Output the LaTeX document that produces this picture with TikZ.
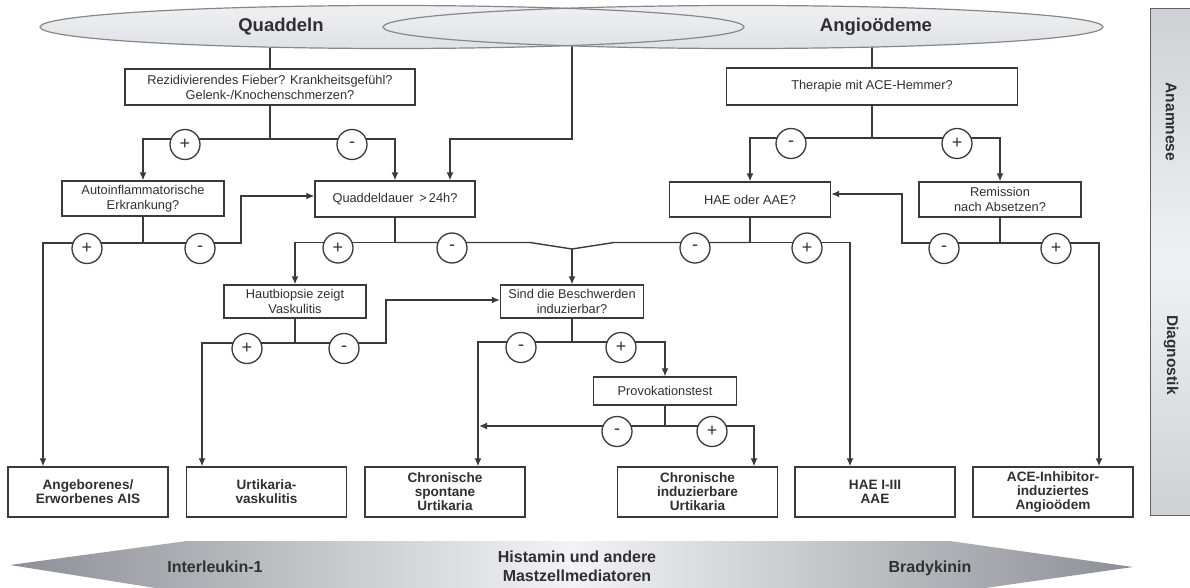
\documentclass[tikz,border=0pt]{standalone}
\usepackage{fontspec}
\setmainfont{Liberation Sans}
\usetikzlibrary{arrows.meta,shapes.geometric,calc}
\definecolor{ln}{HTML}{3A3A3A}
\definecolor{tx}{HTML}{303030}
\definecolor{elltop}{HTML}{F0F0F2}
\definecolor{ellbot}{HTML}{E0E1E4}
\definecolor{ellline}{HTML}{86878B}
\definecolor{bardark}{HTML}{ADB0B7}
\definecolor{barlight}{HTML}{F0F1F3}
\definecolor{bandend}{HTML}{8C8F95}
\definecolor{bandmid}{HTML}{F3F3F5}
\pgfdeclareverticalshading{barshade}{100bp}{color(0bp)=(bardark); color(50bp)=(barlight); color(100bp)=(bardark)}
\pgfdeclarelayer{back}
\pgfsetlayers{back,main}
\begin{document}
\begin{tikzpicture}[x=1pt,y=-1pt,
  box/.style={draw=ln, line width=1.3pt, fill=white, text=tx, align=center, inner sep=0pt, font=\fontsize{12.8}{15}\selectfont},
  fin/.style={draw=ln, line width=1.3pt, fill=white, text=tx, align=center, inner sep=0pt, minimum width=160pt, minimum height=50pt, font=\bfseries\fontsize{13.6}{14}\selectfont},
  sgn/.style={circle, draw=ln, line width=1.3pt, fill=white, minimum size=30pt, inner sep=0pt, text=tx, font=\fontsize{18}{18}\selectfont},
  con/.style={draw=ln, line width=1.4pt},
  arr/.style={con, -{Latex[length=8pt,width=7pt]}},
  ell/.style={ellipse, inner sep=0pt, minimum height=43pt},
  hdr/.style={text=tx, font=\bfseries\fontsize{18.5}{20}\selectfont},
  side/.style={text=tx, font=\bfseries\fontsize{15.5}{17}\selectfont},
]
\useasboundingbox (0,0) rectangle (1190,588);
\clip (0,0) rectangle (1190,588);

% ---------- right side bar ----------
\node[inner sep=0pt, minimum width=46pt, minimum height=506pt, shading=barshade] (bar) at (1174,262) {};
\draw[ln!80, line width=1.2pt] (bar.north east) -- (bar.north west) -- (bar.south west) -- (bar.south east);
\node[side, rotate=-90] (anam) at (1171,122) {Anamnese};
\node[side, rotate=-90] (diag) at (1171,355) {Diagnostik};

% ---------- bottom band ----------
\shade[left color=bandend, right color=bandend, middle color=bandmid]
  (10,565) -- (187,541) -- (950,541) -- (1133,567) -- (950,593) -- (187,593) -- cycle;
\node[side, font=\bfseries\fontsize{16}{19}\selectfont] (il) at (215,567) {Interleukin-1};
\node[side, align=center, font=\bfseries\fontsize{16}{19}\selectfont] (hist) at (577,566) {Histamin und andere\\Mastzellmediatoren};
\node[side, font=\bfseries\fontsize{16}{19}\selectfont] (brady) at (930,568) {Bradykinin};

% ---------- ellipses ----------
\node[ell, minimum width=704pt, top color=elltop, bottom color=ellbot] (qell) at (392,27) {};
\node[ell, minimum width=720pt, top color=elltop, bottom color=ellbot] (aell) at (743,27) {};
\node[ell, minimum width=704pt, draw=ellline, line width=1.2pt] (qellb) at (392,27) {};
\node[ell, minimum width=720pt, draw=ellline, line width=1.2pt] (aellb) at (743,27) {};
\node[hdr] (tq) at (281,27) {Quaddeln};
\node[hdr] (ta) at (876,27) {Angioödeme};

% ---------- question boxes ----------
\node[box, minimum width=290pt, minimum height=36pt] (q1) at (270,87) {Rezidivierendes Fieber? Krankheitsgefühl?\\Gelenk-/Knochenschmerzen?};
\node[box, minimum width=162pt, minimum height=35pt] (auto) at (143,198.5) {Autoinflammatorische\\Erkrankung?};
\node[box, minimum width=160pt, minimum height=36pt] (qd) at (395,199) {Quaddeldauer \,>\,24h?};
\node[box, minimum width=142pt, minimum height=33pt] (haut) at (295,301.5) {Hautbiopsie zeigt\\Vaskulitis};
\node[box, minimum width=143pt, minimum height=33pt] (sind) at (572,301.5) {Sind die Beschwerden\\induzierbar?};
\node[box, minimum width=143pt, minimum height=28pt] (prov) at (665,391) {Provokationstest};
\node[box, minimum width=291pt, minimum height=37pt] (ther) at (872,86.5) {Therapie mit ACE-Hemmer?};
\node[box, minimum width=161pt, minimum height=35pt] (hae) at (750,199.5) {HAE oder AAE?};
\node[box, minimum width=162pt, minimum height=35pt] (rem) at (1000,199.5) {Remission\\nach Absetzen?};

% ---------- final boxes ----------
\node[fin] (f1) at (88,492) {Angeborenes/\\Erworbenes AIS};
\node[fin] (f2) at (266.5,492) {Urtikaria-\\vaskulitis};
\node[fin] (f3) at (445,492) {Chronische\\spontane\\Urtikaria};
\node[fin] (f4) at (697.5,492) {Chronische\\induzierbare\\Urtikaria};
\node[fin] (f5) at (875,492) {HAE I-III\\AAE};
\node[fin] (f6) at (1053,492) {ACE-Inhibitor-\\induziertes\\Angioödem};

% ---------- connectors ----------
\begin{pgfonlayer}{back}
\draw[con] (q1.north) -- (q1.north |- qell.center);
\draw[con] (ther.north) -- (ther.north |- aell.center);
\coordinate (ov) at (572,30);
\coordinate (k1) at (572,139);
\coordinate (k2) at (450,139);
\draw[arr] (ov) -- (k1) -- (k2) -- (k2 |- qd.north);
\end{pgfonlayer}

% q1 branch
\coordinate (j1) at (270,139);
\draw[con] (q1.south) -- (j1);
\draw[arr] (j1) -| (auto.north);
\draw[arr] (j1) -| (qd.north);
\node[sgn] (s1) at (185,144.5) {+};
\node[sgn] (s2) at (352,144.5) {-};

% therapy branch
\coordinate (j2) at (872,138);
\draw[con] (ther.south) -- (j2);
\draw[arr] (j2) -| (hae.north);
\draw[arr] (j2) -| (rem.north);
\node[sgn] (s3) at (791,143.5) {-};
\node[sgn] (s4) at (957,143.5) {+};

% autoinflammatory branch
\coordinate (j3) at (143,243);
\coordinate (a1) at (43,243);
\coordinate (a2) at (241,243);
\coordinate (a3) at (241,196);
\draw[con] (auto.south) -- (j3);
\draw[arr] (j3) -- (a1) -- (a1 |- f1.north);
\draw[arr] (j3) -- (a2) -- (a3) -- (a3 -| qd.west);
\node[sgn] (s5) at (87,248.5) {+};
\node[sgn] (s6) at (200,248.5) {-};

% Quaddeldauer and HAE branches
\coordinate (j4) at (395,242.5);
\coordinate (b1) at (295,242.5);
\coordinate (b2) at (530,242.5);
\coordinate (m) at (572,249);
\coordinate (b3) at (614,242.5);
\coordinate (j5) at (750,242.5);
\coordinate (c1) at (850,242.5);
\draw[con] (qd.south) -- (j4);
\draw[con] (hae.south) -- (j5);
\draw[arr] (j4) -- (b1) -- (haut.north);
\draw[con] (j4) -- (b2) -- (m) -- (b3) -- (j5);
\draw[arr] (m) -- (sind.north);
\draw[arr] (j5) -- (c1) -- (c1 |- f5.north);
\node[sgn] (s7) at (338,248) {+};
\node[sgn] (s8) at (452,248) {-};
\node[sgn] (s9) at (695,248) {-};
\node[sgn] (s10) at (807,248) {+};

% remission branch
\coordinate (j6) at (1000,243);
\coordinate (d1) at (902,243);
\coordinate (d2) at (902,194);
\coordinate (d3) at (1099,243);
\draw[con] (rem.south) -- (j6);
\draw[arr] (j6) -- (d1) -- (d2) -- (d2 -| hae.east);
\draw[arr] (j6) -- (d3) -- (d3 |- f6.north);
\node[sgn] (s11) at (944,248.5) {-};
\node[sgn] (s12) at (1056,248.5) {+};

% skin biopsy branch
\coordinate (j7) at (295,343);
\coordinate (e1) at (202,343);
\coordinate (e2) at (386,343);
\coordinate (e3) at (386,300);
\draw[con] (haut.south) -- (j7);
\draw[arr] (j7) -- (e1) -- (e1 |- f2.north);
\draw[arr] (j7) -- (e2) -- (e3) -- (e3 -| sind.west);
\node[sgn] (s13) at (247,348.5) {+};
\node[sgn] (s14) at (344,348.5) {-};

% inducible branch
\coordinate (j8) at (572,342);
\coordinate (g1) at (478,342);
\coordinate (g2) at (665,342);
\draw[con] (sind.south) -- (j8);
\draw[arr] (j8) -- (g1) -- (g1 |- f3.north);
\draw[arr] (j8) -- (g2) -- (prov.north);
\node[sgn] (s15) at (521,347.5) {-};
\node[sgn] (s16) at (621,347.5) {+};

% provocation branch
\coordinate (j9) at (665,426);
\coordinate (h1) at (479,426);
\coordinate (h2) at (754,426);
\draw[con] (prov.south) -- (j9);
\draw[arr] (j9) -- (h1);
\draw[arr] (j9) -- (h2) -- (h2 |- f4.north);
\node[sgn] (s17) at (617,431.5) {-};
\node[sgn] (s18) at (712,431.5) {+};
\end{tikzpicture}
\end{document}
